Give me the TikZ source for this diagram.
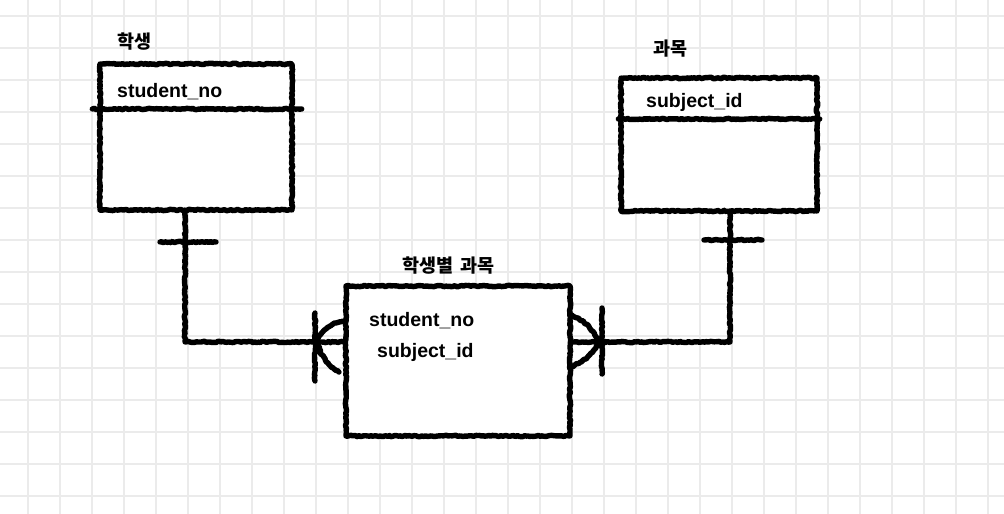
\documentclass[tikz,border=0pt]{standalone}
\usepackage{fontspec}
\setmainfont{Liberation Sans}
\newfontfamily\kr{Noto Sans CJK KR}
\usetikzlibrary{decorations.pathmorphing}
\definecolor{gridc}{RGB}{235,235,235}
\tikzset{
  sk/.style={line width=5.4pt, line join=round, line cap=round, draw=black,
    decorate, decoration={random steps, segment length=1.8pt, amplitude=0.7pt}},
  tbl/.style={sk, inner sep=0pt, fill=white},
  lat/.style={inner sep=0pt, anchor=base west, font=\fontsize{19.5}{22}\selectfont\bfseries},
  kor/.style={inner sep=0pt, anchor=west, font=\kr\fontsize{18.5}{21}\selectfont\bfseries},
}
\begin{document}
\begin{tikzpicture}[x=1pt,y=-1pt]
\useasboundingbox (0,0) rectangle (1004,514);
\fill[white] (0,0) rectangle (1004,514);
% grid
\foreach \i in {0,...,30} \draw[gridc, line width=1.6pt] (28+32*\i,0) -- (28+32*\i,514);
\foreach \j in {0,...,15} \draw[gridc, line width=1.6pt] (0,16+32*\j) -- (1004,16+32*\j);
% tables
\node[tbl, minimum width=192pt, minimum height=146pt] (s) at (196,137) {};
\node[tbl, minimum width=196pt, minimum height=133pt] (g) at (719,144.5) {};
\node[tbl, minimum width=224pt, minimum height=150pt] (m) at (458,361) {};
% dividers
\coordinate (sd) at (0,109);
\coordinate (gd) at (0,119);
\draw[sk] ([xshift=-5pt]s.west |- sd) -- ([xshift=7pt]s.east |- sd);
\draw[sk] (g.west |- gd) -- (g.east |- gd);
% labels
\node[kor] (ls) at (117,42) {학생};
\node[kor] (lg) at (653,49) {과목};
\node[kor] (lm) at (402,266) {학생별\hspace{3pt} 과목};
\node[lat] (t1) at (117,97) {student\_no};
\node[lat] (t2) at (646,107) {subject\_id};
\node[lat] (t3) at (369,326) {student\_no};
\node[lat] (t4) at (377,357) {subject\_id};
% connectors
\coordinate (c1) at (185,342);
\coordinate (c2) at (730,342);
\draw[sk] (c1 |- s.south) -- (c1) -- (c1 -| m.west);
\draw[sk] (c2 |- g.south) -- (c2) -- (c2 -| m.east);
% one marks
\draw[sk] (160,242) -- (216,242);
\draw[sk] (704,240) -- (762,240);
% many marks, left
\draw[sk] (315,313) -- (315,381);
\draw[sk] (343,321) .. controls (325,325) and (318,335) .. (318,342)
          .. controls (318,352) and (328,366) .. (339,372);
% many marks, right
\draw[sk] (602,308) -- (602,374);
\draw[sk] (572,315) .. controls (588,324) .. (600,342)
          .. controls (588,358) .. (572,367);
\end{tikzpicture}
\end{document}
